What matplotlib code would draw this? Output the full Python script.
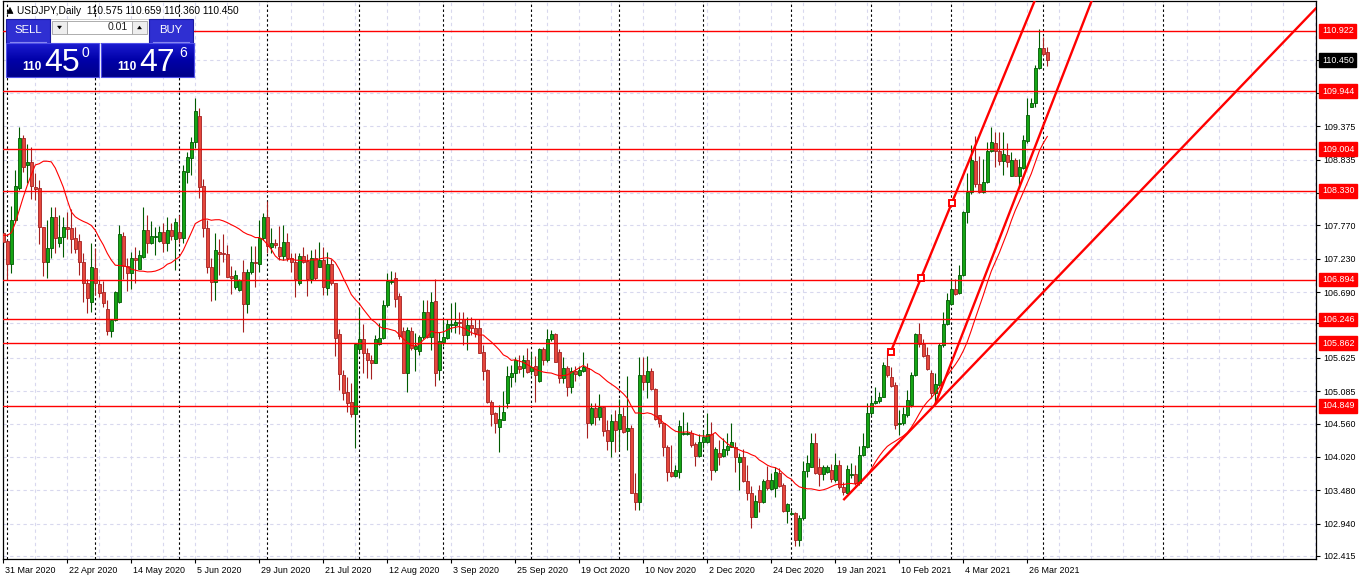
import numpy as np
import pandas as pd
import matplotlib
matplotlib.use("Agg")
import matplotlib.pyplot as plt
import matplotlib.transforms as mtransforms
from matplotlib.patches import Rectangle, Polygon
from matplotlib.colors import LinearSegmentedColormap

plt.rcParams['font.family'] = ['Liberation Sans', 'DejaVu Sans']

# ---------------- data (USDJPY daily) ----------------
opens = [107.65, 107.52, 107.15, 107.86, 108.37, 109.19, 108.75, 108.80, 108.39, 108.38,
         107.75, 107.18, 107.40, 107.91, 107.49, 107.58, 107.75, 107.73, 107.57, 107.52,
         107.18, 106.84, 106.53, 107.08, 106.82, 106.69, 106.42, 106.06, 106.24, 106.53,
         107.60, 107.11, 107.00, 107.24, 107.06, 107.26, 107.70, 107.49, 107.58, 107.52,
         107.66, 107.49, 107.70, 107.55, 107.66, 107.57, 108.63, 108.86, 109.12, 109.54,
         108.41, 107.73, 107.10, 106.85, 107.34, 107.32, 107.31, 106.95, 106.77, 106.72,
         107.02, 106.50, 107.02, 107.18, 107.15, 107.57, 107.91, 107.42, 107.49, 107.42,
         107.27, 107.50, 107.24, 107.18, 106.84, 107.27, 107.19, 106.90, 107.24, 107.10,
         107.21, 106.76, 107.15, 106.84, 106.01, 105.35, 105.07, 104.91, 104.72, 105.76,
         105.93, 105.70, 105.59, 105.54, 105.85, 105.95, 106.48, 106.85, 106.92, 106.63,
         106.06, 105.38, 106.06, 105.77, 105.74, 105.96, 106.37, 105.96, 106.55, 105.43,
         105.88, 105.95, 106.16, 106.16, 106.21, 106.25, 106.00, 106.16, 106.11, 106.11,
         105.72, 105.43, 104.91, 104.73, 104.50, 104.62, 104.89, 105.31, 105.38, 105.49,
         105.46, 105.59, 105.41, 105.49, 105.25, 105.76, 105.59, 105.93, 106.01, 105.72,
         105.30, 105.46, 105.15, 105.41, 105.35, 105.41, 105.46, 104.57, 104.81, 104.67,
         104.83, 104.46, 104.28, 104.60, 104.47, 104.68, 104.44, 104.49, 103.44, 103.29,
         105.35, 105.23, 105.41, 105.12, 104.70, 104.57, 104.18, 103.77, 103.71, 103.77,
         104.39, 104.39, 104.41, 104.23, 104.03, 104.26, 104.26, 104.39, 103.81, 104.08,
         104.03, 104.13, 104.18, 104.18, 103.94, 104.02, 103.63, 103.44, 103.05, 103.48,
         103.29, 103.65, 103.50, 103.52, 103.76, 103.57, 103.14, 103.09, 103.11, 102.67,
         103.03, 103.79, 103.86, 104.25, 103.86, 103.74, 103.77, 103.81, 103.65, 103.89,
         103.53, 103.44, 103.73, 103.74, 103.60, 104.05, 104.18, 104.73, 104.89, 104.93,
         104.99, 105.49, 105.31, 105.19, 104.55, 104.57, 104.70, 104.86, 105.35, 106.01,
         105.85, 105.67, 105.38, 105.06, 105.19, 105.83, 106.17, 106.50, 106.74, 106.67,
         106.97, 107.99, 108.31, 108.81, 108.44, 108.31, 108.47, 108.98, 109.11, 108.98,
         108.81, 108.91, 108.57, 108.83, 108.57, 108.70, 109.14, 109.69, 109.75, 110.32,
         110.64, 110.575]
highs = [108.18, 107.53, 108.09, 108.67, 109.37, 109.24, 109.09, 109.04, 108.62, 108.51,
         107.75, 107.86, 108.07, 108.07, 107.94, 107.91, 107.99, 108.03, 107.75, 107.63,
         107.32, 106.91, 107.49, 107.40, 106.89, 106.87, 106.56, 106.24, 106.71, 107.78,
         107.66, 107.24, 107.34, 107.42, 107.37, 108.07, 107.94, 107.84, 107.75, 107.76,
         107.81, 107.91, 107.81, 107.89, 107.94, 108.75, 108.96, 109.20, 109.83, 109.67,
         108.52, 107.86, 107.24, 107.65, 107.55, 107.63, 107.45, 107.11, 107.05, 106.90,
         107.21, 107.06, 107.44, 107.44, 107.86, 107.97, 108.17, 107.73, 107.55, 107.76,
         107.78, 107.65, 107.32, 107.32, 107.32, 107.42, 107.31, 107.37, 107.39, 107.50,
         107.42, 107.34, 107.23, 106.84, 106.09, 105.43, 105.31, 105.22, 105.86, 106.45,
         106.17, 105.78, 105.67, 106.00, 106.19, 106.56, 107.00, 107.03, 107.01, 106.67,
         106.12, 106.12, 106.12, 106.03, 105.99, 106.56, 106.56, 106.69, 106.91, 106.04,
         106.25, 106.25, 106.51, 106.53, 106.37, 106.37, 106.29, 106.29, 106.25, 106.25,
         105.83, 105.44, 104.94, 104.75, 104.86, 105.09, 105.49, 105.51, 105.64, 105.67,
         105.67, 105.78, 105.72, 105.65, 105.78, 105.80, 106.09, 106.08, 106.03, 105.77,
         105.64, 105.49, 105.48, 105.49, 105.49, 105.72, 105.54, 104.89, 104.89, 105.04,
         104.85, 104.62, 104.71, 104.78, 104.96, 104.83, 105.33, 104.54, 103.76, 105.64,
         105.64, 105.65, 105.46, 105.14, 104.70, 104.57, 104.21, 104.21, 103.89, 104.62,
         104.75, 104.59, 104.46, 104.26, 104.39, 104.46, 104.73, 104.59, 104.18, 104.30,
         104.33, 104.41, 104.57, 104.26, 104.08, 104.15, 103.89, 103.55, 103.40, 103.56,
         103.66, 103.87, 103.76, 103.86, 103.84, 103.60, 103.27, 103.16, 103.13, 103.08,
         103.95, 104.05, 104.41, 104.41, 104.00, 103.89, 103.89, 103.91, 104.08, 103.97,
         103.61, 103.89, 103.92, 103.89, 104.20, 104.41, 104.89, 104.99, 105.15, 105.07,
         105.56, 105.75, 105.48, 105.23, 104.78, 104.83, 105.10, 105.40, 106.03, 106.19,
         105.93, 105.80, 105.43, 105.38, 105.86, 106.37, 106.67, 106.90, 106.90, 107.13,
         108.01, 108.62, 109.07, 109.22, 108.89, 108.85, 109.12, 109.36, 109.28, 109.28,
         109.28, 109.11, 108.96, 108.86, 108.85, 109.23, 109.83, 109.83, 110.37, 110.96,
         110.82, 110.659]
lows = [107.42, 106.89, 107.00, 107.83, 108.34, 108.64, 108.46, 108.20, 108.18, 107.47,
        106.95, 106.92, 107.24, 107.32, 107.42, 107.26, 107.55, 107.32, 107.32, 106.97,
        106.53, 106.35, 106.37, 106.64, 106.61, 106.45, 106.00, 105.96, 106.22, 106.51,
        106.91, 106.71, 106.74, 106.84, 107.06, 107.24, 107.32, 107.47, 107.29, 107.50,
        107.34, 107.36, 107.53, 107.05, 107.49, 107.49, 108.46, 108.59, 109.02, 108.21,
        107.58, 107.00, 106.55, 106.56, 106.97, 107.18, 106.93, 106.66, 106.74, 106.71,
        106.04, 106.35, 106.98, 106.77, 107.02, 107.53, 107.32, 107.32, 107.40, 107.21,
        107.21, 107.19, 107.02, 106.61, 106.81, 107.16, 106.63, 106.84, 106.89, 107.10,
        106.64, 106.64, 106.81, 105.65, 105.10, 104.94, 104.75, 104.67, 104.16, 105.70,
        105.38, 105.30, 105.28, 105.54, 105.83, 105.93, 106.45, 106.82, 106.45, 105.93,
        105.38, 105.07, 105.75, 105.41, 105.67, 105.93, 105.95, 105.75, 105.17, 105.27,
        105.82, 105.93, 106.04, 106.03, 106.01, 105.83, 105.75, 106.00, 105.96, 105.70,
        105.27, 104.89, 104.52, 104.41, 104.10, 104.62, 104.81, 105.15, 105.23, 105.38,
        105.31, 105.38, 105.35, 104.91, 105.23, 105.51, 105.56, 105.90, 105.56, 105.22,
        105.22, 105.01, 105.06, 105.25, 105.33, 105.40, 104.33, 104.54, 104.54, 104.62,
        104.36, 104.13, 104.02, 104.10, 104.13, 104.41, 104.13, 103.44, 103.16, 103.16,
        105.10, 104.97, 105.10, 104.62, 104.50, 104.04, 103.63, 103.69, 103.69, 103.68,
        104.37, 104.37, 104.18, 103.87, 104.02, 104.16, 104.25, 103.65, 103.77, 103.89,
        104.02, 104.05, 104.18, 103.77, 103.48, 103.61, 103.32, 102.87, 103.05, 103.13,
        103.27, 103.48, 103.48, 103.37, 103.53, 103.13, 102.95, 103.08, 102.57, 102.57,
        103.00, 103.69, 103.86, 103.74, 103.55, 103.65, 103.76, 103.61, 103.61, 103.50,
        103.40, 103.44, 103.68, 103.57, 103.57, 104.03, 104.16, 104.70, 104.88, 104.89,
        104.99, 105.31, 105.15, 104.47, 104.37, 104.54, 104.67, 104.83, 105.33, 105.80,
        105.64, 105.43, 104.97, 104.91, 105.17, 105.80, 106.16, 106.48, 106.64, 106.66,
        106.95, 107.81, 108.28, 108.39, 108.30, 108.30, 108.46, 108.96, 108.72, 108.75,
        108.59, 108.72, 108.57, 108.57, 108.38, 108.68, 109.11, 109.69, 109.69, 110.30,
        110.52, 110.360]
closes = [107.50, 107.15, 107.86, 108.41, 109.19, 108.72, 108.80, 108.41, 108.36, 107.75,
          107.18, 107.40, 107.91, 107.57, 107.58, 107.75, 107.71, 107.55, 107.39, 107.18,
          106.84, 106.60, 107.10, 106.84, 106.67, 106.51, 106.06, 106.24, 106.69, 107.63,
          107.11, 107.00, 107.24, 107.21, 107.29, 107.70, 107.49, 107.60, 107.60, 107.66,
          107.49, 107.70, 107.60, 107.83, 107.57, 108.65, 108.88, 109.12, 109.62, 108.39,
          107.73, 107.10, 106.85, 107.37, 107.31, 107.31, 106.93, 106.92, 106.97, 106.89,
          106.50, 107.02, 107.18, 107.16, 107.57, 107.91, 107.44, 107.49, 107.45, 107.27,
          107.50, 107.24, 107.18, 106.90, 107.27, 107.18, 106.90, 107.24, 106.92, 107.21,
          106.77, 107.15, 106.84, 105.95, 105.36, 105.06, 104.89, 104.72, 105.85, 105.93,
          105.70, 105.59, 105.54, 105.93, 105.95, 106.48, 106.87, 106.87, 106.58, 105.98,
          105.38, 106.08, 105.78, 105.82, 105.96, 106.37, 105.96, 106.53, 105.38, 105.90,
          105.96, 106.17, 106.17, 106.21, 106.19, 106.00, 106.16, 106.11, 106.03, 105.70,
          105.41, 104.91, 104.72, 104.57, 104.63, 104.75, 105.33, 105.38, 105.59, 105.44,
          105.59, 105.40, 105.48, 105.35, 105.76, 105.59, 105.93, 106.01, 105.56, 105.30,
          105.46, 105.15, 105.41, 105.36, 105.43, 105.48, 104.57, 104.81, 104.67, 104.83,
          104.44, 104.28, 104.60, 104.46, 104.71, 104.42, 104.49, 103.44, 103.29, 105.35,
          105.23, 105.41, 105.12, 104.63, 104.57, 104.18, 103.77, 103.71, 103.81, 104.52,
          104.41, 104.41, 104.21, 104.03, 104.26, 104.34, 104.39, 103.81, 104.15, 104.02,
          104.15, 104.20, 104.26, 104.02, 104.02, 103.63, 103.44, 103.05, 103.31, 103.29,
          103.63, 103.52, 103.65, 103.77, 103.55, 103.14, 103.26, 103.11, 102.67, 103.03,
          103.79, 103.92, 104.25, 103.76, 103.74, 103.86, 103.86, 103.66, 103.89, 103.53,
          103.45, 103.82, 103.74, 103.60, 104.05, 104.20, 104.73, 104.89, 104.93, 104.99,
          105.51, 105.35, 105.17, 104.54, 104.57, 104.71, 104.94, 105.35, 106.01, 105.85,
          105.65, 105.44, 105.06, 105.20, 105.83, 106.17, 106.56, 106.74, 106.66, 106.97,
          107.99, 108.31, 108.83, 108.44, 108.31, 108.47, 108.98, 109.12, 108.98, 108.81,
          108.93, 108.80, 108.83, 108.57, 108.72, 109.15, 109.56, 109.75, 110.32, 110.64,
          110.55, 110.450]

# first values of the 20-period moving average (earlier closes are off-chart)
ma_start = [107.61, 107.61, 107.65, 107.81, 108.02, 108.23, 108.42, 108.59, 108.75, 108.77,
            108.81, 108.81, 108.80, 108.70, 108.55, 108.39, 108.18, 107.99, 107.91]
ma_period = 20

levels = [110.922, 109.944, 109.004, 108.330, 106.894, 106.246, 105.862, 104.849]
current_price = 110.450
price_ticks = [102.415, 102.940, 103.480, 104.020, 104.560, 105.085, 105.625, 106.185,
               106.690, 107.230, 107.770, 108.295, 108.835, 109.375, 109.915, 110.450]
# scale labels that sit fully behind a price box in the reference
hidden_tick_labels = [108.295, 109.915, 110.450]
date_ticks = list(range(0, 257, 16))
date_labels = ["31 Mar 2020", "22 Apr 2020", "14 May 2020", "5 Jun 2020", "29 Jun 2020",
               "21 Jul 2020", "12 Aug 2020", "3 Sep 2020", "25 Sep 2020", "19 Oct 2020",
               "10 Nov 2020", "2 Dec 2020", "24 Dec 2020", "19 Jan 2021", "10 Feb 2021",
               "4 Mar 2021", "26 Mar 2021"]
month_starts = [1, 23, 44, 66, 89, 110, 132, 154, 175, 197, 217, 237, 260, 290]

# trend lines (bar index, price) anchor points
trend_steep = [(221.85, 105.72), (237.1, 108.13)]
trend_mid = [(232.9, 104.86), (264.2, 110.09)]
trend_flat = [(210.0, 103.32), (324.2, 111.02)]

header = "USDJPY,Daily  110.575 110.659 110.360 110.450"

# ---------------- figure ----------------
W, H = 1362, 580
fig = plt.figure(figsize=(W / 100, H / 100), dpi=100)
fig.patch.set_facecolor('white')
px_l, px_r, px_t, px_b = 2.7, 1316.0, 1.0, 559.3
ax = fig.add_axes([px_l / W, (H - px_b) / H, (px_r - px_l) / W, (px_b - px_t) / H])
ax.set_facecolor('white')

o = np.array(opens); h = np.array(highs); l = np.array(lows); c = np.array(closes)
x = np.arange(len(o))
ax.set_xlim(-0.15, 328.175)
ax.set_ylim(102.361, 111.406)

# grid
grid_col = '#D8D8EE'
for gx in range(8, 329, 8):
    ax.axvline(gx, color=grid_col, lw=0.8, ls=(0, (3, 3)), zorder=0)
for gy in price_ticks:
    ax.axhline(gy, color=grid_col, lw=0.8, ls=(0, (3, 3)), zorder=0)
for mx in month_starts:
    ax.axvline(mx, color='black', lw=0.8, ls=(0, (2.2, 2.2)), zorder=1)

# candles
up = c >= o
g_face, g_edge = '#14A514', '#005A00'
r_face, r_edge = '#E5473C', '#A52020'
ax.vlines(x[up], l[up], h[up], color=g_edge, lw=0.8, zorder=2)
ax.vlines(x[~up], l[~up], h[~up], color=r_edge, lw=0.8, zorder=2)
body_lo = np.minimum(o, c)
body_h = np.maximum(np.abs(c - o), 0.006)
ax.bar(x[up], body_h[up], bottom=body_lo[up], width=0.68, color=g_face,
       edgecolor=g_edge, lw=0.6, zorder=3)
ax.bar(x[~up], body_h[~up], bottom=body_lo[~up], width=0.68, color=r_face,
       edgecolor=r_edge, lw=0.6, zorder=3)

# moving average
ma = pd.Series(closes).rolling(ma_period).mean().values
ma[:len(ma_start)] = ma_start
ax.plot(x, ma, color='#FF0000', lw=0.8, zorder=4)

# horizontal levels
for lv in levels:
    ax.axhline(lv, color='#FF0000', lw=1.0, zorder=5)

# trend lines (rays to the right)
def ray(pts, x_end=400):
    (x0, y0), (x1, y1) = pts
    k = (y1 - y0) / (x1 - x0)
    return [x0, x_end], [y0, y0 + k * (x_end - x0)]

for tl in (trend_steep, trend_mid, trend_flat):
    xs, ys = ray(tl)
    ax.plot(xs, ys, color='#FF0000', lw=1.7, zorder=6, solid_capstyle='butt')
(sx0, sy0), (sx1, sy1) = trend_steep
ax.plot([sx0, (sx0 + sx1) / 2, sx1], [sy0, (sy0 + sy1) / 2, sy1], ls='none', marker='s',
        ms=4.2, mfc='white', mec='#FF0000', mew=1.4, zorder=7)

# axes styling
for sp in ax.spines.values():
    sp.set_color('black'); sp.set_linewidth(0.9)
ax.yaxis.tick_right()
ax.set_yticks(price_ticks)
ax.set_yticklabels(["" if v in hidden_tick_labels else f"{v:.3f}" for v in price_ticks])
ax.tick_params(axis='y', which='both', right=True, left=False, direction='out', length=3,
               width=0.8, pad=2, labelsize=6.4, colors='black')
ax.set_xticks(date_ticks)
ax.set_xticklabels(date_labels, ha='left')
ax.tick_params(axis='x', direction='out', length=3, width=0.8, pad=1.5, labelsize=6.4)
shift = mtransforms.ScaledTranslation(1.5 / 100, 0, fig.dpi_scale_trans)
for lbl in ax.get_xticklabels():
    lbl.set_transform(lbl.get_transform() + shift)

# price labels on the right axis
for lv in levels:
    ax.annotate(f"{lv:.3f}", xy=(1, lv), xycoords=('axes fraction', 'data'),
                xytext=(4.3, 0), textcoords='offset points', ha='left', va='center',
                color='white', fontsize=6.4,
                bbox=dict(boxstyle='square,pad=0.28', fc='#FF0000', ec='#FF0000'),
                annotation_clip=False, zorder=10)
ax.annotate(f"{current_price:.3f}", xy=(1, current_price), xycoords=('axes fraction', 'data'),
            xytext=(4.3, 0), textcoords='offset points', ha='left', va='center',
            color='white', fontsize=6.4,
            bbox=dict(boxstyle='square,pad=0.28', fc='black', ec='black'),
            annotation_clip=False, zorder=10)

# ---------------- trading panel overlay ----------------
ui = fig.add_axes([0, 0, 1, 1], zorder=20)
ui.set_xlim(0, W); ui.set_ylim(H, 0); ui.axis('off'); ui.patch.set_alpha(0)

ui.add_patch(Polygon([(7, 13.5), (10, 7.5), (13, 13.5)], closed=True, fc='black', ec='black', lw=0.5))
ui.text(17, 10.5, header, fontsize=7.3, va='center', ha='left', color='black')

# middle area
ui.add_patch(Rectangle((49, 19), 100, 24, fc='white', ec='#C8C8C8', lw=0.6))
for bx, bw in ((52, 15), (132, 15)):
    ui.add_patch(Rectangle((bx, 21), bw, 13, fc='#EEEEEE', ec='#A0A0A0', lw=0.6))
ui.add_patch(Rectangle((67, 21), 65, 13, fc='white', ec='#A0A0A0', lw=0.6))
ui.add_patch(Polygon([(57.5, 26), (61.5, 26), (59.5, 29)], closed=True, fc='black', ec='black', lw=0.3))
ui.add_patch(Polygon([(137.5, 29), (141.5, 29), (139.5, 26)], closed=True, fc='black', ec='black', lw=0.3))
ui.text(128, 27.5, "0.01", fontsize=7.6, ha='right', va='center', color='#202020')

# SELL / BUY buttons
for bx, txt in ((6, "SELL"), (149, "BUY")):
    ui.add_patch(Rectangle((bx, 19), 44, 24, fc='#2F2FD2', ec='#1A1AA0', lw=0.8))
    ui.plot([bx + 4, bx + 40], [41.5, 41.5], color='#8A8AF0', lw=0.8)
    ui.text(bx + 22, 30, txt, fontsize=8.2, ha='center', va='center', color='white')

# big price boxes
grad_cmap = LinearSegmentedColormap.from_list('blu', ['#1C1CD0', '#0000A8', '#00008A'])
grad = np.linspace(0, 1, 50).reshape(-1, 1)
for bx in (6, 101):
    ui.imshow(grad, extent=[bx, bx + 93, 77, 43], cmap=grad_cmap, aspect='auto',
              interpolation='bilinear', zorder=1)
    ui.add_patch(Rectangle((bx, 43), 93, 34, fc='none', ec='#5050E8', lw=0.8, zorder=2))
ui.set_xlim(0, W); ui.set_ylim(H, 0)
ui.text(22, 70, "110", fontsize=8.6, fontweight='bold', color='white', ha='left', va='baseline', zorder=3)
ui.text(44, 71, "45", fontsize=23, color='white', ha='left', va='baseline', zorder=3)
ui.text(82, 57, "0", fontsize=10, color='white', ha='left', va='baseline', zorder=3)
ui.text(117, 70, "110", fontsize=8.6, fontweight='bold', color='white', ha='left', va='baseline', zorder=3)
ui.text(139, 71, "47", fontsize=23, color='white', ha='left', va='baseline', zorder=3)
ui.text(179, 57, "6", fontsize=10, color='white', ha='left', va='baseline', zorder=3)

fig.savefig("out.png", dpi=100)
